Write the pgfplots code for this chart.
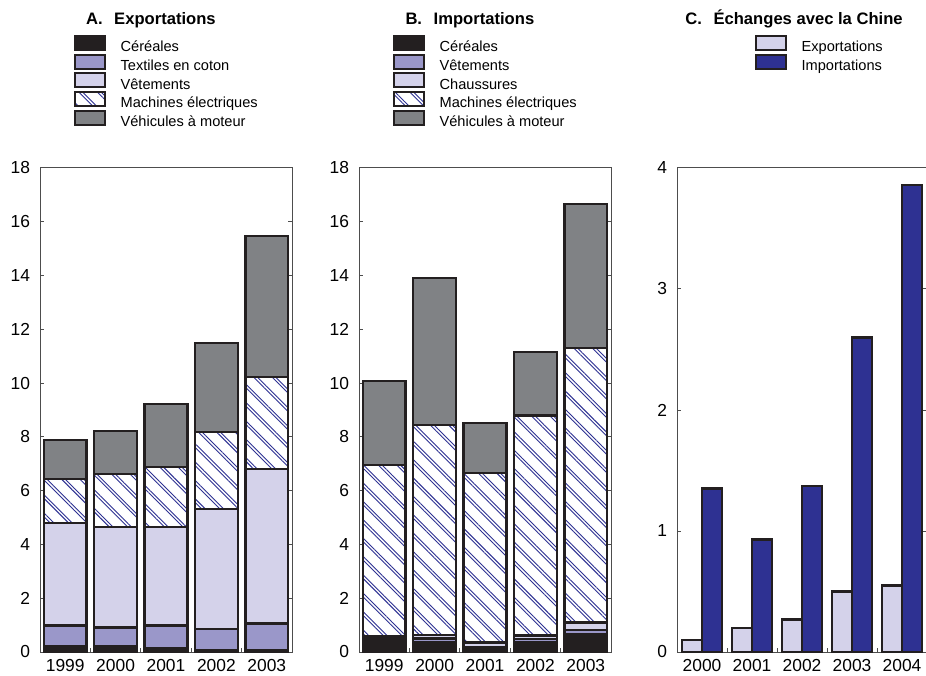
\documentclass[border=0pt]{standalone}
\usepackage{fontspec}
\setmainfont{Liberation Sans}
\usepackage{pgfplots}
\pgfplotsset{compat=1.18}
\usepackage{pgfplotstable}
\usetikzlibrary{patterns.meta}

\definecolor{barblack}{HTML}{231F20}
\definecolor{cereal}{HTML}{231F20}
\definecolor{midlav}{HTML}{9A97C9}
\definecolor{lightlav}{HTML}{D4D2EA}
\definecolor{vehgray}{HTML}{808285}
\definecolor{impblue}{HTML}{2E3192}
\definecolor{hatchblue}{HTML}{2E3192}
\definecolor{axisgray}{HTML}{4D4D4D}

% paired diagonal hatching used for "Machines électriques"
\tikzdeclarepattern{
  name=pairlines,
  type=uncolored,
  bottom left={(0pt,-0.5pt)},
  top right={(4pt,6pt)},
  tile size={(4pt,6.5pt)},
  tile transformation={rotate=-45},
  code={
    \pgfsetlinewidth{0.45pt}
    \pgfpathmoveto{\pgfqpoint{-0.1pt}{0pt}}
    \pgfpathlineto{\pgfqpoint{4.1pt}{0pt}}
    \pgfpathmoveto{\pgfqpoint{-0.1pt}{1.3pt}}
    \pgfpathlineto{\pgfqpoint{4.1pt}{1.3pt}}
    \pgfusepath{stroke}
  }
}

% Exportations (stacked increments, milliards)
\pgfplotstableread{
x cer tex vet mac veh
0 0.22 0.77 3.81 1.63 1.45
1 0.22 0.69 3.74 1.97 1.60
2 0.14 0.85 3.66 2.23 2.34
3 0.08 0.78 4.46 2.86 3.31
4 0.06 1.00 5.74 3.42 5.24
}\exports

% Importations (stacked increments)
\pgfplotstableread{
x cer vet cha mac veh
0 0.57 0.00 0.00 6.38 3.12
1 0.38 0.12 0.13 7.82 5.45
2 0.12 0.07 0.17 6.30 1.85
3 0.35 0.13 0.14 8.18 2.35
4 0.65 0.17 0.28 10.20 5.35
}\imports

% Échanges avec la Chine
\pgfplotstableread{
x exp imp
0 0.10 1.35
1 0.20 0.93
2 0.27 1.37
3 0.50 2.60
4 0.55 3.86
}\china

\pgfplotsset{
  panel/.style={
    scale only axis, width=126pt, height=242pt, anchor=south west,
    axis line style={draw=axisgray, line width=0.5pt},
    tick align=inside, major tick length=2.2pt,
    ytick pos=both, xtick pos=left,
    xmin=-0.5, xmax=4.5, ymin=0,
    xtick={0.5,1.5,2.5,3.5}, xticklabels={},
    extra x ticks={0,1,2,3,4},
    extra x tick style={major tick length=0pt},
    tick style={draw=axisgray, line width=0.5pt},
    ticklabel style={font=\fontsize{8.7}{10}\selectfont},
    /pgf/number format/assume math mode=true,
    yticklabel style={xshift=-1.5pt},
    title style={font=\fontsize{8.3}{10}\selectfont\bfseries, anchor=base, inner sep=0pt},
    legend cell align=left,
    legend style={anchor=north west, draw=none, fill=none,
      inner sep=0pt, outer sep=0pt,
      font=\fontsize{7.3}{8}\selectfont, row sep=-0.8pt,
      /tikz/every odd column/.append style={column sep=7.3pt},
      nodes={inner sep=0pt, text height=5.3pt, text depth=1.7pt}},
    legend image code/.code={\draw[##1, line width=1pt] (0pt,-0.9pt) rectangle (15pt,6.1pt);},
  },
  seg/.style={draw=barblack, line width=1.2pt},
}

\begin{document}
\begin{tikzpicture}

% A. Exportations
\begin{axis}[ybar stacked, bar width=0.85, panel,
  at={(20pt,11.5pt)},
  ymax=18, ytick={0,2,...,18},
  extra x tick labels={1999,2000,2001,2002,2003},
  title={A.\hspace{0.7em}Exportations}, title style={at={(0.44,1.2707)}},
  legend style={at={(0.135,1.2745)}}]
\addplot[seg, fill=cereal] table[x=x, y=cer] {\exports};
\addplot[seg, fill=midlav] table[x=x, y=tex] {\exports};
\addplot[seg, fill=lightlav] table[x=x, y=vet] {\exports};
\addplot[seg, fill=white, postaction={pattern={pairlines}, pattern color=hatchblue}] table[x=x, y=mac] {\exports};
\addplot[seg, fill=vehgray] table[x=x, y=veh] {\exports};
\legend{Céréales, Textiles en coton, Vêtements, Machines électriques, Véhicules à moteur}
\end{axis}

% B. Importations
\begin{axis}[ybar stacked, bar width=0.85, panel,
  at={(179.5pt,11.5pt)},
  ymax=18, ytick={0,2,...,18},
  extra x tick labels={1999,2000,2001,2002,2003},
  title={B.\hspace{0.7em}Importations}, title style={at={(0.44,1.2707)}},
  legend style={at={(0.135,1.2745)}}]
\addplot[seg, fill=cereal] table[x=x, y=cer] {\imports};
\addplot[seg, fill=midlav] table[x=x, y=vet] {\imports};
\addplot[seg, fill=lightlav] table[x=x, y=cha] {\imports};
\addplot[seg, fill=white, postaction={pattern={pairlines}, pattern color=hatchblue}] table[x=x, y=mac] {\imports};
\addplot[seg, fill=vehgray] table[x=x, y=veh] {\imports};
\legend{Céréales, Vêtements, Chaussures, Machines électriques, Véhicules à moteur}
\end{axis}

% C. Échanges avec la Chine
\begin{axis}[ybar, bar width=0.4, panel, width=125pt,
  at={(338.5pt,11.5pt)},
  ymax=4, ytick={0,1,2,3,4},
  extra x tick labels={2000,2001,2002,2003,2004},
  title={C.\hspace{0.7em}Échanges avec la Chine}, title style={at={(0.468,1.2707)}},
  legend style={at={(0.312,1.2745)}}]
\addplot[seg, fill=lightlav, bar shift=-0.2] table[x=x, y=exp] {\china};
\addplot[seg, fill=impblue, bar shift=0.2] table[x=x, y=imp] {\china};
\legend{Exportations, Importations}
\end{axis}

\pgfresetboundingbox
\useasboundingbox (0,0) rectangle (463pt,337.5pt);
\end{tikzpicture}
\end{document}
